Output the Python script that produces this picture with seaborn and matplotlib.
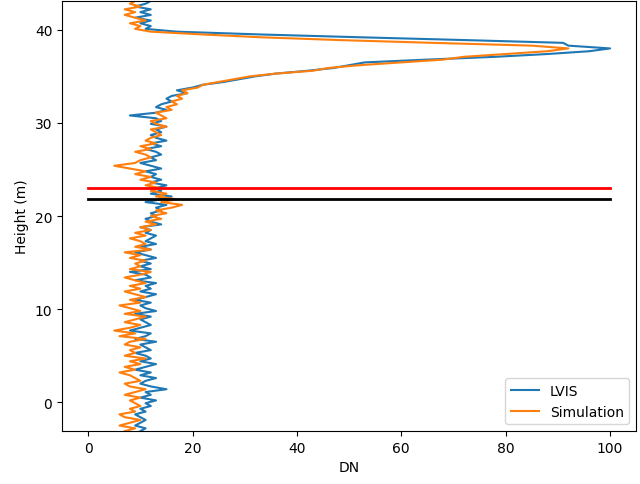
import numpy as np
import pandas as pd
import matplotlib
matplotlib.use("Agg")
import matplotlib.pyplot as plt
import seaborn as sns

# =====================================================
# DATA (waveforms, 0.3 m bins)
# =====================================================
heights = np.linspace(-3.1, 43.1, 155)

lvis = [
    10, 11, 9, 10, 11, 10, 9, 11, 10, 12,
    11, 13, 10, 12, 11, 15, 12, 10, 11, 13,
    10, 12, 9, 11, 13, 10, 12, 11, 9, 12,
    11, 10, 13, 9, 11, 12, 8, 10, 12, 11,
    10, 12, 9, 13, 11, 10, 12, 9, 11, 13,
    10, 12, 11, 13, 9, 12, 11, 8, 12, 10,
    12, 10, 13, 11, 9, 12, 10, 13, 11, 12,
    13, 11, 12, 10, 14, 12, 11, 13, 12, 14,
    13, 15, 11, 14, 16, 12, 14, 13, 15, 12,
    14, 12, 13, 11, 14, 12, 10, 13, 12, 14,
    13, 11, 14, 12, 15, 13, 12, 14, 13, 15,
    12, 14, 13, 8, 13, 15, 13, 14, 16, 15,
    16, 19, 17, 20, 22, 26, 29, 32, 36, 42,
    47, 50, 53, 65, 78, 88, 96, 100, 92, 91,
    72, 52, 33, 17, 11, 12, 10, 12, 9, 12,
    10, 12, 9, 11, 12,
]

simulation = [
    7, 9, 6, 8, 10, 7, 6, 9, 8, 10,
    9, 8, 10, 7, 9, 11, 8, 7, 10, 9,
    8, 6, 9, 7, 10, 8, 11, 7, 9, 8,
    10, 7, 8, 11, 6, 9, 5, 8, 10, 7,
    9, 11, 7, 10, 8, 6, 10, 8, 11, 9,
    7, 10, 8, 11, 9, 7, 10, 12, 8, 10,
    9, 11, 8, 10, 7, 12, 9, 11, 10, 8,
    11, 9, 12, 10, 13, 11, 14, 12, 15, 13,
    16, 18, 14, 17, 13, 15, 12, 14, 11, 13,
    10, 12, 9, 11, 8, 5, 9, 10, 12, 11,
    9, 12, 10, 13, 11, 12, 14, 13, 12, 15,
    13, 12, 15, 14, 13, 16, 15, 17, 16, 18,
    17, 19, 18, 21, 22, 25, 28, 31, 36, 43,
    46, 52, 60, 68, 72, 80, 88, 92, 85, 66,
    48, 33, 22, 12, 9, 10, 8, 11, 9, 7,
    9, 7, 10, 8, 9,
]

# reference heights (horizontal markers)
red_height = 23.0
black_height = 21.8
marker_dn = [0, 100]

# =====================================================
# DATAFRAME
# =====================================================
df = pd.DataFrame({
    "height": np.concatenate([heights, heights]),
    "DN": np.concatenate([lvis, simulation]),
    "source": ["LVIS"] * len(heights) + ["Simulation"] * len(heights),
})

# =====================================================
# FIGURE
# =====================================================
fig, ax = plt.subplots(figsize=(6.4, 4.85), dpi=100)

sns.lineplot(
    data=df, x="DN", y="height", hue="source",
    palette=["#1f77b4", "#ff7f0e"],
    sort=False, estimator=None, orient="y",
    linewidth=1.5, ax=ax,
)

ax.plot(marker_dn, [red_height, red_height], color="red", linewidth=2)
ax.plot(marker_dn, [black_height, black_height], color="black", linewidth=2)

ax.set_ylim(heights[0], heights[-1])
ax.set_xlabel("DN")
ax.set_ylabel("Height (m)")
ax.legend(loc="lower right")

plt.subplots_adjust(left=0.097, right=0.994, top=0.996, bottom=0.109)
plt.savefig("out.png", dpi=100)
